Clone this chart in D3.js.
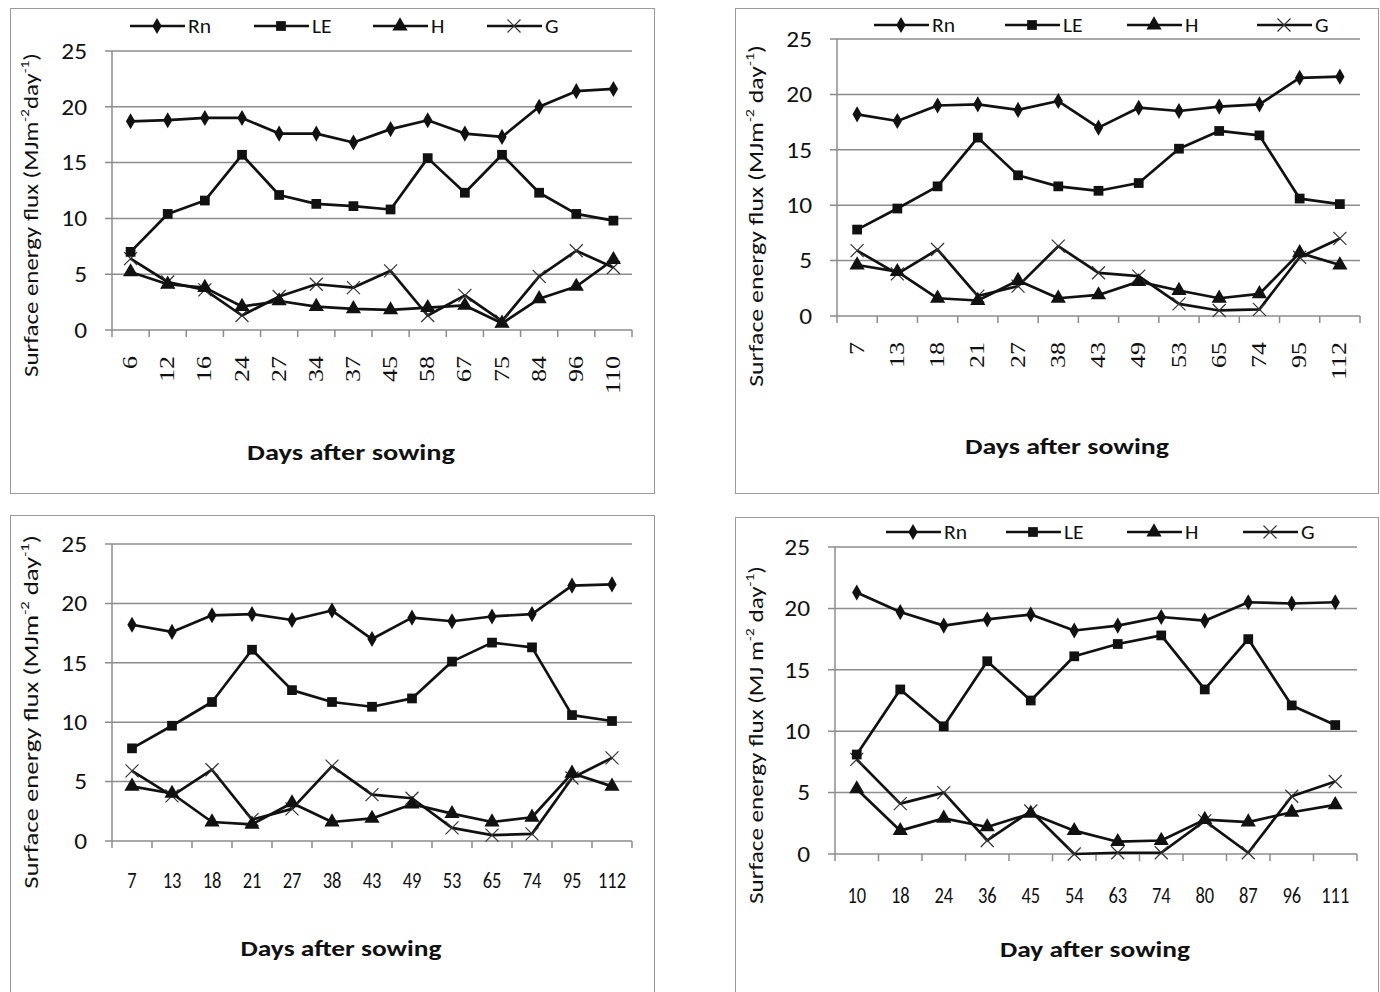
<!DOCTYPE html>
<html><head><meta charset="utf-8">
<script src="https://cdn.jsdelivr.net/npm/d3@7"></script>
<style>body{margin:0;background:#fff} svg{display:block}</style>
</head><body>
<svg id="c" width="1380" height="992"></svg>
<script>
// ---------------- data ----------------
const seriesNames = ["Rn", "LE", "H", "G"];
const yTickValues = [0, 5, 10, 15, 20, 25];

// panel (a) – top left
const daysA = ["6","12","16","24","27","34","37","45","58","67","75","84","96","110"];
const rnA = [18.7,18.8,19.0,19.0,17.6,17.6,16.8,18.0,18.8,17.6,17.3,20.0,21.4,21.6];
const leA = [7.0,10.4,11.6,15.7,12.1,11.3,11.1,10.8,15.4,12.3,15.7,12.3,10.4,9.8];
const hA  = [5.2,4.1,3.8,2.1,2.6,2.1,1.9,1.8,2.0,2.2,0.6,2.8,3.9,6.3];
const gA  = [6.4,4.3,3.6,1.3,3.0,4.1,3.8,5.3,1.3,3.1,0.8,4.8,7.1,5.6];

// panels (b) and (c) – top right and bottom left (same season)
const daysB = ["7","13","18","21","27","38","43","49","53","65","74","95","112"];
const rnB = [18.2,17.6,19.0,19.1,18.6,19.4,17.0,18.8,18.5,18.9,19.1,21.5,21.6];
const leB = [7.8,9.7,11.7,16.1,12.7,11.7,11.3,12.0,15.1,16.7,16.3,10.6,10.1];
const hB  = [4.6,4.0,1.6,1.4,3.2,1.6,1.9,3.1,2.3,1.6,2.0,5.7,4.6];
const gB  = [5.9,3.8,6.0,1.8,2.7,6.3,3.9,3.6,1.1,0.5,0.6,5.3,7.0];

// panel (d) – bottom right
const daysC = ["10","18","24","36","45","54","63","74","80","87","96","111"];
const rnC = [21.3,19.7,18.6,19.1,19.5,18.2,18.6,19.3,19.0,20.5,20.4,20.5];
const leC = [8.1,13.4,10.4,15.7,12.5,16.1,17.1,17.8,13.4,17.5,12.1,10.5];
const hC  = [5.3,1.9,2.9,2.2,3.3,1.9,1.0,1.1,2.8,2.6,3.4,4.0];
const gC  = [7.7,4.1,5.0,1.1,3.5,0.0,0.1,0.1,2.7,0.1,4.7,5.9];

// ---------------- drawing ----------------
const SANS = "Carlito, Calibri, Lato, 'Open Sans', sans-serif";
const SERIF = "'Liberation Serif', 'Times New Roman', serif";
const svg = d3.select("#c");
const GRID = "#8c8c8c";
const INK = "#111";

function marker(g, type, cx, cy) {
  if (type === "Rn") {
    g.append("path").attr("d", d3.symbol(d3.symbolDiamond, 75)())
      .attr("transform", `translate(${cx},${cy})`).attr("fill", INK);
  } else if (type === "LE") {
    g.append("path").attr("d", d3.symbol(d3.symbolSquare, 95)())
      .attr("transform", `translate(${cx},${cy})`).attr("fill", INK);
  } else if (type === "H") {
    g.append("path").attr("d", d3.symbol(d3.symbolTriangle, 100)())
      .attr("transform", `translate(${cx},${cy})`).attr("fill", INK);
  } else {
    const r = 6.5;
    g.append("path").attr("d", `M${cx-r},${cy-r}L${cx+r},${cy+r}M${cx-r},${cy+r}L${cx+r},${cy-r}`)
      .attr("stroke", "#333").attr("stroke-width", 1.2).attr("fill", "none");
  }
}

// stretch a text element along its own reading direction so it spans `len` px
function fit(t, base, len) {
  const w = t.node().getComputedTextLength();
  t.attr("transform", `${base} scale(${len / w},1)`);
}

function addYTitle(g, x, y, parts, size, len) {
  const t = g.append("text").attr("text-anchor", "middle").attr("font-family", SANS)
    .attr("font-size", size).attr("fill", INK);
  let shift = 0;
  parts.forEach(p => {
    if (p.sup) {
      t.append("tspan").text(p.t).attr("font-size", size * 0.62).attr("dy", -size * 0.42);
      shift = size * 0.42;
    } else {
      t.append("tspan").text(p.t).attr("dy", shift); shift = 0;
    }
  });
  fit(t, `translate(${x},${y}) rotate(-90)`, len);
}

function drawPanel(cfg) {
  const g = svg.append("g");
  const [bx, by, bw, bh] = cfg.box;
  g.append("rect").attr("x", bx + 0.5).attr("y", by + 0.5).attr("width", bw).attr("height", bh)
    .attr("fill", "#fff").attr("stroke", "#9a9a9a").attr("stroke-width", 1);

  const x = d3.scaleBand().domain(cfg.days).range([cfg.x0, cfg.x1]);
  const y = d3.scaleLinear().domain([0, 25]).range([cfg.yb, cfg.yt]);
  const cx = d => x(d) + x.bandwidth() / 2;

  // grid lines (with outside tick on the value axis)
  g.selectAll(".grid").data(yTickValues).join("line")
    .attr("x1", cfg.x0 - 7).attr("x2", cfg.x1)
    .attr("y1", d => y(d)).attr("y2", d => y(d))
    .attr("stroke", GRID).attr("stroke-width", 1.5);
  g.append("line").attr("x1", cfg.x0).attr("x2", cfg.x0).attr("y1", cfg.yb).attr("y2", cfg.yt)
    .attr("stroke", GRID).attr("stroke-width", 1.5);
  const bounds = cfg.days.map(d => x(d)).concat([cfg.x1]);
  g.selectAll(".xt").data(bounds).join("line")
    .attr("x1", d => d).attr("x2", d => d).attr("y1", cfg.yb).attr("y2", cfg.yb + 7)
    .attr("stroke", GRID).attr("stroke-width", 1.5);

  // y tick labels
  g.selectAll(".yl").data(yTickValues).join("text")
    .attr("transform", d => `translate(${cfg.x0 - 25},${y(d)}) scale(1.18,1)`)
    .attr("dy", "0.36em")
    .attr("text-anchor", "end").attr("font-family", SANS).attr("font-size", 21.5)
    .attr("fill", INK).text(d => d);

  // x tick labels
  if (cfg.rotated) {
    g.selectAll(".xl").data(cfg.days).join("text")
      .attr("transform", d => `translate(${cx(d)},${cfg.yb + 26}) rotate(-90) scale(1.3,1)`)
      .attr("dy", "0.33em").attr("text-anchor", "end")
      .attr("font-family", SERIF).attr("font-size", 20).attr("fill", INK).text(d => d);
  } else {
    g.selectAll(".xl").data(cfg.days).join("text")
      .attr("transform", d => `translate(${cx(d)},${cfg.yb + cfg.labelGap}) scale(0.86,1)`)
      .attr("text-anchor", "middle").attr("font-family", SANS).attr("font-size", 21.5)
      .attr("fill", INK).text(d => d);
  }

  // series
  const line = d3.line().x((v, i) => cx(cfg.days[i])).y(v => y(v));
  const order = [3, 2, 1, 0];
  order.forEach(k => {
    g.append("path").attr("d", line(cfg.series[k])).attr("fill", "none")
      .attr("stroke", INK).attr("stroke-width", 2.7).attr("stroke-linejoin", "round");
  });
  order.forEach(k => {
    cfg.series[k].forEach((v, i) => marker(g, seriesNames[k], cx(cfg.days[i]), y(v)));
  });

  // legend
  if (cfg.legend) {
    const ly = cfg.legend.y;
    seriesNames.forEach((name, i) => {
      const lx = cfg.legend.xs[i];
      g.append("line").attr("x1", lx).attr("x2", lx + 55).attr("y1", ly).attr("y2", ly)
        .attr("stroke", INK).attr("stroke-width", 2.7);
      marker(g, name, lx + 27, ly);
      g.append("text").attr("transform", `translate(${lx + 58},${ly}) scale(1.08,1)`)
        .attr("dy", "0.36em")
        .attr("font-family", SANS).attr("font-size", 20).attr("fill", INK).text(name);
    });
  }

  addYTitle(g, cfg.yTitle.x, cfg.yTitle.y, cfg.yTitle.parts, 21, cfg.yTitle.len);

  const xt = g.append("text").attr("text-anchor", "middle").attr("font-family", SANS)
    .attr("font-weight", "bold").attr("font-size", 21.5).attr("fill", INK).text(cfg.xTitle.t);
  fit(xt, `translate(${cfg.xTitle.x},${cfg.xTitle.y})`, cfg.xTitle.len);
}

const titleA = [{t: "Surface energy flux (MJm"}, {t: "-2", sup: true}, {t: "day"}, {t: "-1", sup: true}, {t: ")"}];
const titleB = [{t: "Surface energy flux (MJm"}, {t: "-2", sup: true}, {t: " day"}, {t: "-1", sup: true}, {t: ")"}];
const titleC = [{t: "Surface energy flux  (MJ m"}, {t: "-2", sup: true}, {t: " day"}, {t: "-1", sup: true}, {t: ")"}];

drawPanel({
  box: [10, 8, 644, 485], x0: 112, x1: 632, yb: 330, yt: 51,
  days: daysA, series: [rnA, leA, hA, gA], rotated: true,
  legend: {xs: [130, 254, 373, 487], y: 26},
  yTitle: {x: 38, y: 215, parts: titleA, len: 324},
  xTitle: {x: 351, y: 460, t: "Days after sowing", len: 208}
});
drawPanel({
  box: [735, 8, 643, 485], x0: 837, x1: 1360, yb: 316, yt: 39,
  days: daysB, series: [rnB, leB, hB, gB], rotated: true,
  legend: {xs: [874, 1005, 1127, 1257], y: 25},
  yTitle: {x: 763, y: 216, parts: titleB, len: 342},
  xTitle: {x: 1067, y: 454, t: "Days after sowing", len: 204}
});
drawPanel({
  box: [10, 515, 644, 485], x0: 112, x1: 632, yb: 841, yt: 544,
  days: daysB, series: [rnB, leB, hB, gB], rotated: false, labelGap: 47,
  legend: null,
  yTitle: {x: 38, y: 712, parts: titleB, len: 354},
  xTitle: {x: 341, y: 956, t: "Days after sowing", len: 201}
});
drawPanel({
  box: [735, 517, 643, 485], x0: 835, x1: 1357, yb: 854, yt: 547,
  days: daysC, series: [rnC, leC, hC, gC], rotated: false, labelGap: 49,
  legend: {xs: [886, 1006, 1127, 1243], y: 532},
  yTitle: {x: 763, y: 735, parts: titleC, len: 338},
  xTitle: {x: 1095, y: 957, t: "Day after sowing", len: 190}
});
</script>
</body></html>
